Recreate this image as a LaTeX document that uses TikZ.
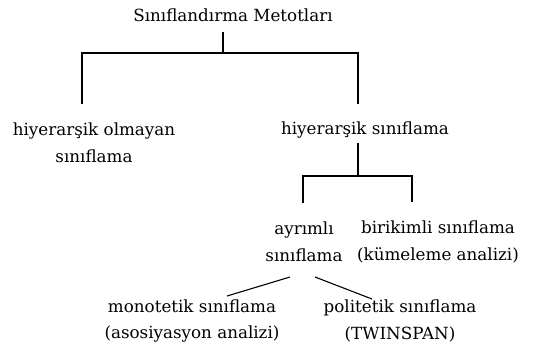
\documentclass[tikz,border=0pt]{standalone}
\usepackage{fontspec}
\setmainfont{DejaVu Serif}
\begin{document}
\begin{tikzpicture}[x=1bp,y=-1bp,
  lbl/.style={inner sep=0pt, align=center, font=\fontsize{16.8}{27}\selectfont},
  conn/.style={line width=1.1bp}]
\useasboundingbox (0,0) rectangle (547,354);
\node[lbl] (root) at (233,15) {Sınıflandırma Metotları};
\node[lbl] (nonh) at (94,143) {hiyerarşik olmayan\\sınıflama};
\node[lbl] (hier) at (365,130) {hiyerarşik sınıflama};
\node[lbl] (ayr) at (304,242) {ayrımlı\\sınıflama};
\node[lbl] (bir) at (438,242) {birikimli sınıflama\\(kümeleme analizi)};
\node[lbl] (mono) at (192,321) {monotetik sınıflama\\(asosiyasyon analizi)};
\node[lbl] (poli) at (400,321) {politetik sınıflama\\(TWINSPAN)};
\coordinate (r1) at (223,32);
\coordinate (j1) at (223,53);
\coordinate (jl) at (82,53);
\coordinate (jr) at (358,53);
\coordinate (el) at (82,104);
\coordinate (er) at (358,104);
\coordinate (h1) at (358,143);
\coordinate (j2) at (358,176);
\coordinate (j2l) at (303,176);
\coordinate (j2r) at (412,176);
\coordinate (e2l) at (303,203);
\coordinate (e2r) at (412,202);
\coordinate (m1) at (290,277);
\coordinate (m2) at (227,296);
\coordinate (p1) at (315,277);
\coordinate (p2) at (372,299);
\draw[conn] (r1) -- (j1);
\draw[conn] (el) -- (jl) -- (jr) -- (er);
\draw[conn] (h1) -- (j2);
\draw[conn] (e2l) -- (j2l) -- (j2r) -- (e2r);
\draw[conn] (m1) -- (m2);
\draw[conn] (p1) -- (p2);
\end{tikzpicture}
\end{document}
